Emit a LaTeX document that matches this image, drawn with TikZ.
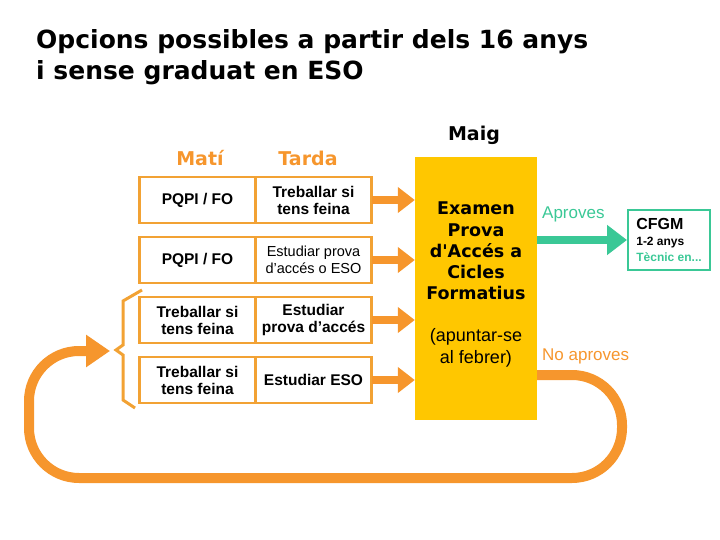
\documentclass[tikz,border=0pt]{standalone}
\usepackage{fontspec}
\setmainfont{Liberation Sans}
\newfontfamily\verdana{DejaVu Sans}
\usetikzlibrary{arrows.meta,positioning}
\definecolor{DiagOrange}{RGB}{246,150,45}
\definecolor{BoxOrange}{RGB}{242,162,52}
\definecolor{ExamYellow}{RGB}{255,199,0}
\definecolor{PassGreen}{RGB}{58,200,150}
\newcommand{\cellbold}{\bfseries\fontsize{15.5}{17}\selectfont}
\newcommand{\cellreg}{\fontsize{14.5}{17}\selectfont}
\newcommand{\headfont}{\verdana\bfseries\fontsize{19}{22}\selectfont}

\begin{document}
\begin{tikzpicture}[x=1pt,y=-1pt,
    cell/.style={draw=BoxOrange, line width=2.5pt, minimum width=116pt, minimum height=46pt,
                 align=center, inner sep=0pt, outer sep=0pt, font=\cellbold},
    rowarrow/.style={DiagOrange, line width=8pt, -{Triangle[length=17pt,width=25pt]}},
    retryarrow/.style={DiagOrange, line width=10pt, -{Triangle[length=24pt,width=31pt]}},
    bracketline/.style={BoxOrange, line width=3pt},
    passlabel/.style={anchor=west, inner sep=0pt, font=\fontsize{17}{20}\selectfont}]
    \useasboundingbox (0,0) rectangle (720,540);

    % Title
    \node[anchor=base west, inner sep=0pt, font=\verdana\bfseries\fontsize{25}{30}\selectfont] (title) at (36,49)
        {Opcions possibles a partir dels 16 anys};
    \node[anchor=base west, inner sep=0pt, font=\verdana\bfseries\fontsize{25}{30}\selectfont] (subtitle) at (36,80)
        {i sense graduat en ESO};

    % Column headers
    \node[anchor=base, DiagOrange, font=\headfont] (mati) at (200,166) {Matí};
    \node[anchor=base, DiagOrange, font=\headfont] (tarda) at (308,166) {Tarda};
    \node[anchor=base, font=\headfont] (maig) at (474,141) {Maig};

    % Morning / afternoon options
    \node[cell] (m1) at (197.5,200) {PQPI / FO};
    \node[cell, right=0pt of m1] (t1) {Treballar si\\tens feina};
    \node[cell, below=14pt of m1] (m2) {PQPI / FO};
    \node[cell, right=0pt of m2, font=\cellreg] (t2) {Estudiar prova\\d'accés o ESO};
    \node[cell, below=14pt of m2] (m3) {Treballar si\\tens feina};
    \node[cell, right=0pt of m3] (t3) {Estudiar\\prova d'accés};
    \node[cell, below=14pt of m3] (m4) {Treballar si\\tens feina};
    \node[cell, right=0pt of m4] (t4) {Estudiar ESO};

    % The exam
    \node[fill=ExamYellow, minimum width=122pt, minimum height=263pt, inner sep=0pt] (exam) at (476,288.5) {};
    \node[align=center, font=\verdana\bfseries\fontsize{17.5}{21.25}\selectfont] (examtxt) at (476,251)
        {Examen\\Prova\\d'Accés a\\Cicles\\Formatius};
    \node[align=center, font=\fontsize{18}{22}\selectfont] (febrer) at (476,348) {(apuntar-se\\al febrer)};

    \foreach \i in {1,...,4}
        \draw[rowarrow] (t\i.east) -- (t\i.east -| exam.west);

    % Passing leads to CFGM
    \node[draw=PassGreen, line width=2pt, minimum width=82pt, minimum height=60pt, align=left, inner sep=0pt,
          font=\bfseries\fontsize{12}{14.5}\selectfont] (cfgm) at (669,240)
        {{\fontsize{16}{14.5}\selectfont CFGM}\\[1pt]
         {\fontsize{12}{14.5}\selectfont 1-2 anys}\\[1.5pt]
         {\color{PassGreen}Tècnic en...}};
    \draw[PassGreen, line width=8pt, -{Triangle[length=20pt,width=29pt]}] (exam.east |- cfgm.west) -- (cfgm.west);
    \node[passlabel, PassGreen] (aproves) at (542,214) {Aproves};

    % Failing loops back
    \node[passlabel, DiagOrange] (noaproves) at (542,356) {No aproves};
    \coordinate (loopend) at (110,351);
    \draw[retryarrow, rounded corners=50pt] (exam.east |- 0,375) -- (622,375) -- (622,478)
        -- (29,478) -- (29,351) -- (loopend);

    % Bracket round the last two options
    \draw[bracketline] (142,290) -- (123,301) -- (123,345) -- (116,350) -- (123,355) -- (123,400) -- (135,408);
\end{tikzpicture}
\end{document}
